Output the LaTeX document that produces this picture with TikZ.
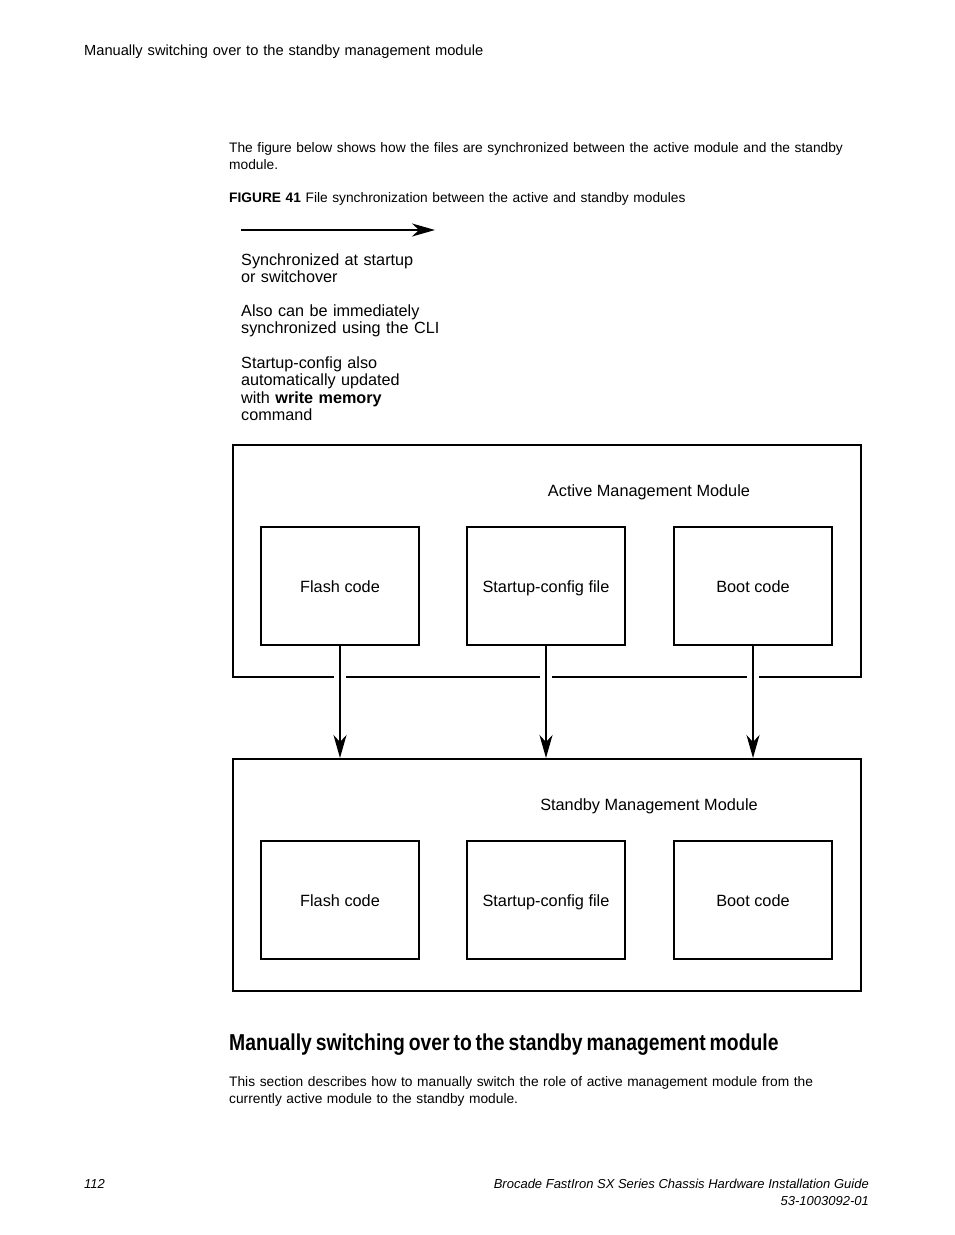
\documentclass[tikz,border=0pt]{standalone}
\usepackage{fontspec}
\setmainfont{Liberation Sans}
\usetikzlibrary{arrows.meta,positioning}
\tikzstyle{modbox}=[draw=black,line width=2pt,minimum width=628pt,minimum height=232pt,inner sep=0pt]
\tikzstyle{filebox}=[draw=black,line width=2pt,minimum width=158pt,minimum height=118pt,inner sep=0pt,outer sep=0pt,text height=14.5pt,text depth=1pt,font=\fontsize{16.3}{19}\selectfont]
\tikzstyle{modlabel}=[inner sep=0pt,font=\fontsize{16.3}{19}\selectfont]
\tikzstyle{sync}=[-{Stealth[length=23pt,width=13pt,inset=7pt]},line width=1.8pt]
\tikzstyle{para}=[anchor=base west,inner sep=0pt,text width=660pt,align=left,font=\fontsize{13.75}{17}\selectfont]
\tikzstyle{legtxt}=[anchor=base west,inner sep=0pt,text width=220pt,align=left,font=\fontsize{16.2}{17.6}\selectfont]
\tikzstyle{foot}=[inner sep=0pt,font=\fontsize{13}{17}\selectfont\itshape]

\begin{document}
\begin{tikzpicture}[x=1pt,y=-1pt]
\useasboundingbox[fill=white] (0,0) rectangle (954,1235);

% page text
\node[para,font=\fontsize{14.65}{17}\selectfont] (runhead) at (84,55) {Manually switching over to the standby management module};
\node[para] (intro) at (229,152) {The figure below shows how the files are synchronized between the active module and the standby\\module.};
\node[para] (caption) at (229,202) {\textbf{FIGURE 41} File synchronization between the active and standby modules};

% legend
\coordinate (legs) at (241,230);
\coordinate (lege) at (435,230);
\draw[sync] (legs) -- (lege);
\node[legtxt] (leg1) at (241,265) {Synchronized at startup\\or switchover};
\node[legtxt] (leg2) at (241,316) {Also can be immediately\\synchronized using the CLI};
\node[legtxt] (leg3) at (241,368) {Startup-config also\\automatically updated\\with \textbf{write memory}\\command};

% active module
\node[modbox] (abox) at (547,561) {};
\node[modlabel] (alabel) at (649,492.5) {Active Management Module};
\node[filebox] (aflash) at (340,586) {Flash code};
\node[filebox,right=48pt of aflash] (astart) {Startup-config file};
\node[filebox,right=49pt of astart] (aboot) {Boot code};

% standby module
\node[modbox] (sbox) at (547,875) {};
\node[modlabel] (slabel) at (649,806.5) {Standby Management Module};
\node[filebox] (sflash) at (340,900) {Flash code};
\node[filebox,right=48pt of sflash] (sstart) {Startup-config file};
\node[filebox,right=49pt of sstart] (sboot) {Boot code};

% gaps where the arrows leave the active module
\foreach \f in {aflash,astart,aboot}
  \draw[white,line width=4pt] ([xshift=-6pt]\f.south |- abox.south) -- ([xshift=6pt]\f.south |- abox.south);
\draw[sync] (aflash.south) -- (aflash.south |- sbox.north);
\draw[sync] (astart.south) -- (astart.south |- sbox.north);
\draw[sync] (aboot.south) -- (aboot.south |- sbox.north);

% section
\node[para] (secthead) at (229,1050) {\scalebox{0.841}[1]{\fontsize{23}{26}\selectfont\bfseries Manually switching over to the standby management module}};
\node[para] (secttext) at (229,1086) {This section describes how to manually switch the role of active management module from the\\currently active module to the standby module.};

% footer
\node[foot,anchor=base west] (pagenum) at (84,1188) {112};
\node[foot,anchor=base east] (guide) at (869,1188) {Brocade FastIron SX Series Chassis Hardware Installation Guide};
\node[foot,anchor=base east] (docnum) at (869,1205) {53-1003092-01};
\end{tikzpicture}
\end{document}
